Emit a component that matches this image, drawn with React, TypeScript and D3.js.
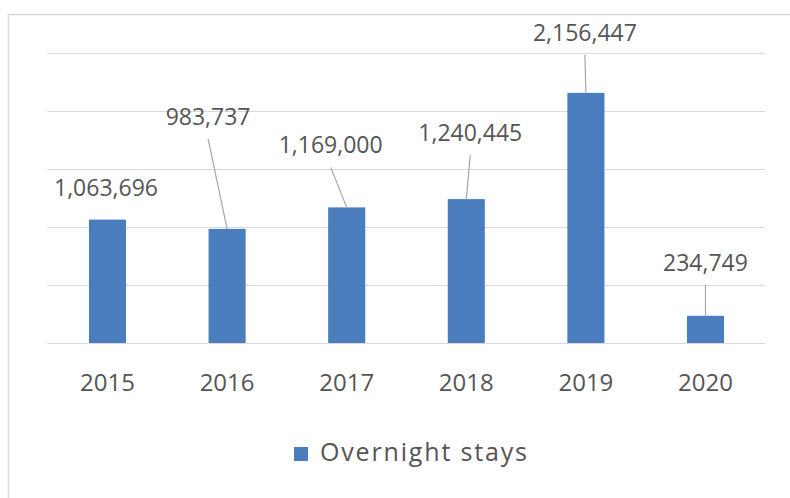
import React from "react";
import * as d3 from "d3";

const categories: string[] = ["2015", "2016", "2017", "2018", "2019", "2020"];
const overnightStays: number[] = [1063696, 983737, 1169000, 1240445, 2156447, 234749];
const yTicks: number[] = [0, 500000, 1000000, 1500000, 2000000, 2500000];
const seriesName = "Overnight stays";

// manually placed data-label offsets (relative to bar top-centre), in px
const labelDx: number[] = [-1.5, -19, -16, 4, -1, 0];
const labelDy: number[] = [-24, -104, -54, -58, -52, -45];
const hasLeader: boolean[] = [false, true, true, true, true, true];

const W = 790;
const H = 498;
const FONT = "'Open Sans', sans-serif";
const TEXT = "#555555";
const BAR = "#4a7dbd";
const GRID = "#d9d9d9";

export default function App() {
  const x = d3
    .scaleBand<string>()
    .domain(categories)
    .range([47.7, 765.3])
    .paddingInner(0.69)
    .paddingOuter(0.345);
  const y = d3.scaleLinear().domain([0, 2500000]).range([343, 53]);
  const fmt = d3.format(",");
  const bw = x.bandwidth();

  return (
    <div style={{ position: "absolute", left: 0, top: 0 }}>
      <svg width={W} height={H} style={{ display: "block", background: "#fff" }}>
        <rect x={0} y={0} width={W} height={H} fill="#fff" />
        <rect x={8.5} y={14.5} width={W + 20} height={H + 20} fill="none" stroke={GRID} strokeWidth={1.5} />
        {yTicks.map((t) => (
          <line
            key={t}
            x1={47}
            x2={765}
            y1={Math.round(y(t)) + 0.5}
            y2={Math.round(y(t)) + 0.5}
            stroke={GRID}
            strokeWidth={1.2}
          />
        ))}
        {categories.map((c, i) => {
          const v = overnightStays[i];
          const x0 = x(c) as number;
          return <rect key={c} x={x0} y={y(v)} width={bw} height={y(0) - y(v)} fill={BAR} />;
        })}
        {categories.map((c, i) => {
          const v = overnightStays[i];
          const cx = (x(c) as number) + bw / 2;
          const top = y(v);
          const lx = cx + labelDx[i];
          const ly = top + labelDy[i];
          return (
            <g key={"lab" + c}>
              {hasLeader[i] && (
                <line x1={lx} y1={ly + 14} x2={cx} y2={top} stroke="#a6a6a6" strokeWidth={1.2} />
              )}
              <text
                x={lx}
                y={ly}
                textAnchor="middle"
                fontFamily={FONT}
                fontSize={23}
                fill={TEXT}
              >
                {fmt(v)}
              </text>
            </g>
          );
        })}
        {categories.map((c) => (
          <text
            key={"ax" + c}
            x={(x(c) as number) + bw / 2}
            y={391}
            textAnchor="middle"
            fontFamily={FONT}
            fontSize={24}
            fill={TEXT}
          >
            {c}
          </text>
        ))}
        <g>
          <rect x={294} y={447} width={14} height={14} fill={BAR} />
          <text
            x={320}
            y={461}
            fontFamily={FONT}
            fontSize={25}
            fill={TEXT}
            textLength={207}
            lengthAdjust="spacing"
          >
            {seriesName}
          </text>
        </g>
      </svg>
    </div>
  );
}
